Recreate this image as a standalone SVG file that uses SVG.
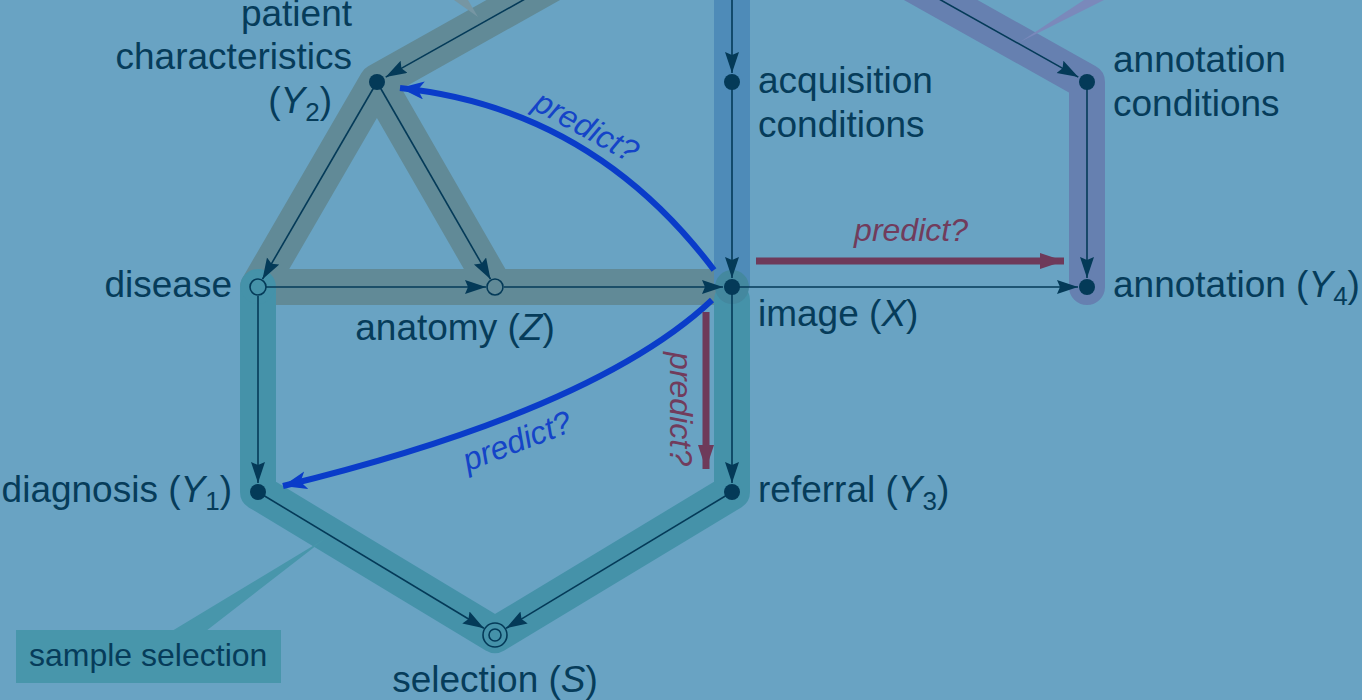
<svg xmlns="http://www.w3.org/2000/svg" width="1362" height="700" viewBox="0 0 1362 700">
<style>
.lbl{font-family:"Liberation Sans",Arial,sans-serif;font-size:37px;fill:#063c5a}
.it{font-style:italic}
.sub{font-size:26px}
.pr{font-family:"Liberation Sans",Arial,sans-serif;font-size:32px;font-style:italic}
.band{fill:none;stroke-linejoin:round;stroke-width:36}
.e{fill:none;stroke:#043a58;stroke-width:1.6}
.dot{fill:#043a58}
.open{fill:none;stroke:#043a58;stroke-width:1.6}
</style>
<defs>
<marker id="ah" markerUnits="userSpaceOnUse" markerWidth="24" markerHeight="16" refX="21" refY="7" orient="auto">
<path d="M0,0 L21,7 L0,14 L3,7 z" fill="#043a58"/>
</marker>
<marker id="ab" markerUnits="userSpaceOnUse" markerWidth="28" markerHeight="20" refX="24" refY="9" orient="auto">
<path d="M0,0 L24,9 L0,18 L6,9 z" fill="#0a3cc9"/>
</marker>
<marker id="am" markerUnits="userSpaceOnUse" markerWidth="26" markerHeight="18" refX="24" refY="8" orient="auto">
<path d="M0,0 L24,8 L0,16 z" fill="#6e3a5a"/>
</marker>
</defs>
<rect width="1362" height="700" fill="#69a3c3"/>
<g id="bands">
<path class="band" stroke="#618a97" d="M732,-117 L377,82 L258,287 L722,287 M377,82 L495,287"/>
<path class="band" stroke="#4e8bb8" d="M732,-117 L732,287"/>
<path class="band" stroke="#6680b0" stroke-linecap="round" d="M732,-117 L1087,82 L1087,287"/>
<path class="band" stroke="#4592a9" stroke-linecap="round" stroke-width="32" d="M258,287 L258,492 L495,635 L732,492 L732,300"/>
<circle cx="732" cy="287" r="17" fill="#44889f"/>
<circle cx="258" cy="287" r="17" fill="#4592a9"/>
<polygon points="478,17 454,0 468,0" fill="#7696a3"/>
<polygon points="1020,42 1084,0 1104,0" fill="#7a89bb"/>
<polygon points="326,538 172,631 206,631" fill="#4896ab"/>
</g>
<g id="sample-selection">
<rect x="16" y="630" width="265" height="53" fill="#4896ab"/>
<text class="lbl" x="29" y="666" style="font-size:32px">sample selection</text>
</g>
<g id="connectors">
<path class="e" marker-end="url(#ah)" d="M732,-117 L385.7,77.1"/>
<path class="e" marker-end="url(#ah)" d="M732,-117 L732,73"/>
<path class="e" marker-end="url(#ah)" d="M732,-117 L1078.3,77.1"/>
<path class="e" marker-end="url(#ah)" d="M377,82 L262.5,279.2"/>
<path class="e" marker-end="url(#ah)" d="M377,82 L490.5,279.2"/>
<path class="e" marker-end="url(#ah)" d="M266,287 L486,287"/>
<path class="e" marker-end="url(#ah)" d="M504,287 L723,287"/>
<path class="e" marker-end="url(#ah)" d="M732,82 L732,278"/>
<path class="e" marker-end="url(#ah)" d="M732,287 L1078,287"/>
<path class="e" marker-end="url(#ah)" d="M1087,82 L1087,278"/>
<path class="e" marker-end="url(#ah)" d="M258,296 L258,483"/>
<path class="e" marker-end="url(#ah)" d="M732,287 L732,483"/>
<path class="e" marker-end="url(#ah)" d="M258,492 L483.9,628.3"/>
<path class="e" marker-end="url(#ah)" d="M732,492 L506.1,628.3"/>
<path fill="none" stroke="#0a3cc9" stroke-width="6" marker-end="url(#ab)" d="M714,270 Q592,108 400,88"/>
<path fill="none" stroke="#0a3cc9" stroke-width="6" marker-end="url(#ab)" d="M712,300 Q595,410 283,486"/>
<path fill="none" stroke="#6e3a5a" stroke-width="7" marker-end="url(#am)" d="M756,261 L1064,261"/>
<path fill="none" stroke="#6e3a5a" stroke-width="7" marker-end="url(#am)" d="M706,312 L706,469"/>
<text class="pr" fill="#1444c8" x="581" y="136" text-anchor="middle" transform="rotate(29 581 136)">predict?</text>
<text class="pr" fill="#1444c8" x="521" y="451" text-anchor="middle" transform="rotate(-21 521 451)">predict?</text>
<text class="pr" fill="#713c5c" x="911" y="241" text-anchor="middle">predict?</text>
<text class="pr" fill="#713c5c" x="670" y="409" text-anchor="middle" transform="rotate(90 670 409)">predict?</text>
</g>
<g id="node-y2">
<circle class="dot" cx="377" cy="82" r="8"/>
<text class="lbl" x="352" y="26" text-anchor="end">patient</text>
<text class="lbl" x="352" y="69" text-anchor="end">characteristics</text>
<text class="lbl" x="332" y="113" text-anchor="end">(<tspan class="it">Y</tspan><tspan class="sub" dy="8">2</tspan><tspan dy="-8">)</tspan></text>
</g>
<g id="node-acq">
<circle class="dot" cx="732" cy="82" r="8"/>
<text class="lbl" x="758" y="93">acquisition</text>
<text class="lbl" x="758" y="137">conditions</text>
</g>
<g id="node-anncond">
<circle class="dot" cx="1087" cy="82" r="8"/>
<text class="lbl" x="1113" y="72">annotation</text>
<text class="lbl" x="1113" y="116">conditions</text>
</g>
<g id="node-disease">
<circle class="open" cx="258" cy="287" r="8"/>
<text class="lbl" x="232" y="297" text-anchor="end">disease</text>
</g>
<g id="node-anatomy">
<circle class="open" cx="495" cy="287" r="8"/>
<text class="lbl" x="455" y="340" text-anchor="middle">anatomy (<tspan class="it">Z</tspan>)</text>
</g>
<g id="node-image">
<circle class="dot" cx="732" cy="287" r="8"/>
<text class="lbl" x="758" y="326">image (<tspan class="it">X</tspan>)</text>
</g>
<g id="node-y4">
<circle class="dot" cx="1087" cy="287" r="8"/>
<text class="lbl" x="1113" y="297">annotation (<tspan class="it">Y</tspan><tspan class="sub" dy="8">4</tspan><tspan dy="-8">)</tspan></text>
</g>
<g id="node-y1">
<circle class="dot" cx="258" cy="492" r="8"/>
<text class="lbl" x="232" y="502" text-anchor="end">diagnosis (<tspan class="it">Y</tspan><tspan class="sub" dy="8">1</tspan><tspan dy="-8">)</tspan></text>
</g>
<g id="node-y3">
<circle class="dot" cx="732" cy="492" r="8"/>
<text class="lbl" x="758" y="502">referral (<tspan class="it">Y</tspan><tspan class="sub" dy="8">3</tspan><tspan dy="-8">)</tspan></text>
</g>
<g id="node-s">
<circle class="open" cx="495" cy="635" r="12"/>
<circle class="open" cx="495" cy="635" r="6"/>
<text class="lbl" x="495" y="692" text-anchor="middle">selection (<tspan class="it">S</tspan>)</text>
</g>
</svg>
